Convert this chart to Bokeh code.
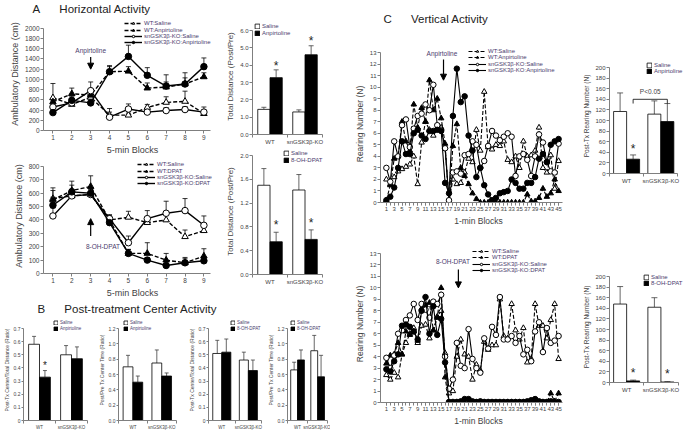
from bokeh.plotting import figure
from bokeh.layouts import row, column
from bokeh.models import (ColumnDataSource, Range1d, FixedTicker, NumeralTickFormatter,
                          Whisker, TeeHead, Legend, LegendItem, Arrow, NormalHead, Label)
from bokeh.core.properties import value
from bokeh.embed import file_html
from bokeh.resources import INLINE

# ======================= DATA =======================
groups = ["WT", "snGSK3β-KO"]
blocks5 = [1, 2, 3, 4, 5, 6, 7, 8, 9]
blocks1 = list(range(1, 46))

# A (top): ambulatory distance, anpirtoline
a1_wt_sal = [640, 510, 650, 300, 300, 450, 550, 570, 330]
a1_wt_sal_err = [280, 60, 100, 60, 40, 60, 110, 200, 70]
a1_wt_anp = [560, 720, 690, 1150, 1160, 830, 850, 910, 1050]
a1_wt_anp_err = [60, 110, 80, 100, 90, 100, 100, 120, 80]
a1_ko_sal = [460, 540, 780, 260, 420, 360, 390, 410, 360]
a1_ko_sal_err = [120, 60, 170, 170, 100, 60, 60, 60, 100]
a1_ko_anp = [350, 590, 540, 1150, 1450, 1080, 870, 910, 1250]
a1_ko_anp_err = [80, 80, 60, 120, 220, 150, 220, 220, 170]

# A (bottom): ambulatory distance, 8-OH-DPAT
a2_wt_sal = [560, 580, 590, 400, 420, 380, 400, 275, 320]
a2_wt_sal_err = [60, 40, 40, 30, 45, 40, 40, 50, 40]
a2_wt_dpat = [550, 620, 650, 400, 150, 150, 100, 80, 130]
a2_wt_dpat_err = [90, 70, 80, 30, 30, 80, 50, 40, 55]
a2_ko_sal = [430, 580, 590, 410, 230, 410, 450, 470, 360]
a2_ko_sal_err = [60, 50, 40, 30, 50, 60, 90, 90, 70]
a2_ko_dpat = [510, 610, 600, 380, 150, 100, 60, 80, 95]
a2_ko_dpat_err = [60, 50, 40, 30, 30, 20, 30, 30, 30]

# A bars: total distance (post/pre)
a1bar_sal = [1.45, 1.30]
a1bar_sal_err = [0.12, 0.12]
a1bar_anp = [3.28, 4.60]
a1bar_anp_err = [0.45, 0.52]
a2bar_sal = [1.50, 1.42]
a2bar_sal_err = [0.28, 0.26]
a2bar_dpat = [0.55, 0.59]
a2bar_dpat_err = [0.16, 0.16]

# B: post-treatment center activity
b1_sal = [0.58, 0.50]
b1_sal_err = [0.06, 0.07]
b1_anp = [0.33, 0.47]
b1_anp_err = [0.05, 0.09]
b2_sal = [0.70, 0.75]
b2_sal_err = [0.15, 0.17]
b2_anp = [0.50, 0.58]
b2_anp_err = [0.08, 0.04]
b3_sal = [0.51, 0.46]
b3_sal_err = [0.10, 0.06]
b3_dpat = [0.52, 0.38]
b3_dpat_err = [0.10, 0.08]
b4_sal = [0.66, 0.91]
b4_sal_err = [0.10, 0.20]
b4_dpat = [0.79, 0.57]
b4_dpat_err = [0.13, 0.28]

# C (top): rearing, anpirtoline
c1_wt_sal = [2.0, 1.6, 2.2, 2.7, 2.9, 3.1, 3.3, 4.0, 1.6, 5.2,
             7.0, 6.3, 5.8, 6.5, 6.5, 4.8, 0.1, 2.0, 1.6, 1.7,
             2.6, 3.8, 3.5, 6.3, 4.5, 9.6, 4.8, 4.6, 5.0, 4.9,
             5.3, 3.7, 3.5, 4.0, 3.0, 5.3, 4.0, 4.1, 4.5, 6.5,
             3.0, 2.6, 4.1, 1.2, 3.6]
c1_wt_anp = [0.2, 1.5, 3.8, 4.0, 7.0, 5.3, 4.5, 8.5, 6.5, 8.2,
             7.0, 10.6, 8.0, 9.0, 7.3, 5.1, 0.1, 4.9, 6.8, 3.0,
             2.3, 1.6, 0.8, 0.3, 0, 0, 0, 0, 0, 0,
             0, 0, 0, 0, 0, 0, 0.7, 0.1, 0.1, 0.4,
             1.2, 0.5, 0.8, 2.0, 1.0]
c1_ko_sal = [3.0, 1.8, 5.3, 4.0, 6.7, 7.2, 4.8, 6.4, 7.5, 7.7,
             8.5, 8.0, 10.2, 6.7, 6.3, 4.7, 0.2, 2.6, 2.7, 2.5,
             4.1, 4.2, 5.3, 5.0, 3.0, 3.6, 4.9, 6.2, 5.8, 5.4,
             5.7, 6.0, 5.7, 2.3, 4.0, 4.2, 3.7, 2.3, 4.0, 5.9,
             5.2, 3.5, 2.7, 2.6, 5.1]
c1_ko_anp = [0.2, 0.5, 1.3, 3.0, 5.3, 4.2, 4.2, 6.0, 6.3, 5.8,
             5.5, 6.2, 6.2, 6.3, 6.2, 1.7, 0.8, 7.5, 11.6, 8.7,
             9.2, 5.8, 4.5, 2.2, 3.0, 1.5, 0.7, 0.2, 0.4, 0.8,
             0.9, 1.0, 2.0, 1.7, 1.2, 1.2, 1.7, 1.7, 2.2, 3.8,
             4.2, 3.5, 5.0, 5.3, 5.5]

# C (bottom): rearing, 8-OH-DPAT
c2_wt_sal = [2.4, 2.0, 2.6, 2.2, 4.2, 5.2, 6.0, 6.5, 5.2, 6.7,
             6.8, 5.6, 6.3, 7.5, 8.0, 4.3, 0.8, 1.0, 4.0, 5.5,
             4.2, 4.0, 2.0, 3.3, 2.8, 5.3, 4.6, 5.0, 5.0, 9.0,
             5.8, 5.6, 8.6, 6.3, 5.5, 6.5, 3.5, 3.8, 8.6, 6.7,
             6.7, 5.6, 7.2, 8.6, 3.8]
c2_wt_dpat = [3.4, 4.1, 4.2, 5.2, 4.2, 6.2, 5.9, 6.2, 5.4, 8.2,
              8.5, 8.7, 6.3, 7.4, 10.0, 2.2, 0, 0, 0, 0,
              0, 0, 0, 0, 0, 0, 0, 0, 0, 0,
              0, 0, 0, 0, 0, 0, 0, 0, 0.1, 0,
              0, 0, 0.8, 0.1, 0.8]
c2_ko_sal = [3.9, 3.0, 4.1, 6.0, 6.3, 7.2, 7.6, 8.6, 7.2, 8.6,
             8.1, 7.4, 8.8, 8.6, 9.4, 4.0, 1.2, 2.0, 5.2, 3.2,
             3.0, 6.4, 3.8, 3.0, 2.6, 5.6, 4.7, 6.6, 5.9, 9.2,
             5.5, 5.5, 5.8, 5.2, 5.8, 4.2, 4.6, 3.6, 6.2, 7.0,
             4.4, 6.5, 5.2, 5.4, 5.8]
c2_ko_dpat = [2.9, 2.7, 3.6, 4.2, 6.7, 6.8, 6.6, 6.2, 5.5, 8.0,
              9.2, 6.0, 8.4, 5.9, 7.3, 3.5, 0.05, 0.05, 0.05, 0.1,
              0.3, 0.3, 0.1, 0.05, 0.1, 0.05, 0.05, 0.05, 0.05, 0.05,
              0.05, 0.05, 0.05, 0.05, 0.05, 0.05, 0.1, 0.2, 0.3, 0.1,
              0.05, 0.05, 0.1, 0.05, 0.05]

# C bars: post-Tx rearing number
c1bar_sal = [117, 112]
c1bar_sal_err = [35, 25]
c1bar_anp = [27, 98]
c1bar_anp_err = [8, 34]
c2bar_sal = [148, 142]
c2bar_sal_err = [33, 18]
c2bar_dpat = [3, 1]
c2bar_dpat_err = [1.5, 0.5]

# tick values
a1_yticks = [0, 200, 400, 600, 800, 1000, 1200, 1400, 1600, 1800, 2000]
a2_yticks = [0, 100, 200, 300, 400, 500, 600, 700, 800]
a1bar_yticks = [0, 1, 2, 3, 4, 5, 6]
a2bar_yticks = [0, 0.4, 0.8, 1.2, 1.6, 2.0]
b_small_yticks = [0, 0.1, 0.2, 0.3, 0.4, 0.5, 0.6, 0.7]
b_large_yticks = [0, 0.2, 0.4, 0.6, 0.8, 1.0, 1.2]
c_yticks = [0, 1, 2, 3, 4, 5, 6, 7, 8, 9, 10, 11, 12, 13]
cbar_yticks = [0, 20, 40, 60, 80, 100, 120, 140, 160, 180, 200]
c_xlabels = [1, 3, 5, 7, 9, 11, 13, 15, 17, 19, 21, 23, 25, 27, 29, 31, 33, 35, 37, 39, 41, 43, 45]

# ======================= STYLE / LAYOUT =======================
FONT = "Liberation Sans"
AXC = "#7f7f7f"
TXT = "#3f3f3f"
LEG = "#4b3d6e"
FRAMES = {}


def make_fig(box, frame, xr, yr, ext_top=0, ext_right=0):
    """box/frame in page pixels; the data ranges xr/yr map onto 'frame';
    the actual frame is extended upward/rightward so legends are not clipped."""
    bx0, by0, bx1, by1 = box
    fx0, fy0, fx1, fy1 = frame
    ppx = (fx1 - fx0) / (xr[1] - xr[0])
    ppy = (fy1 - fy0) / (yr[1] - yr[0])
    afy0 = fy0 - ext_top
    afx1 = fx1 + ext_right
    p = figure(width=bx1 - bx0, height=by1 - by0,
               x_range=Range1d(xr[0], xr[1] + ext_right / ppx),
               y_range=Range1d(yr[0], yr[1] + ext_top / ppy),
               output_backend="svg", toolbar_location=None, title=None,
               min_border_left=fx0 - bx0, min_border_right=bx1 - afx1,
               min_border_top=afy0 - by0, min_border_bottom=by1 - fy1)
    p.frame_align = False
    p.outline_line_color = None
    p.xgrid.visible = False
    p.ygrid.visible = False
    p.background_fill_color = "white"
    p.border_fill_color = "white"
    p.xaxis.bounds = (xr[0], xr[1])
    p.yaxis.bounds = (yr[0], yr[1])
    FRAMES[p.id] = (fx0, afy0, afx1, fy1)
    return p


def strip(w, h, text, x, y_from_top):
    p = figure(width=w, height=h, x_range=Range1d(0, w), y_range=Range1d(0, h),
               output_backend="svg", toolbar_location=None, title=None,
               x_axis_location=None, y_axis_location=None,
               min_border_left=0, min_border_right=0, min_border_top=0, min_border_bottom=0)
    p.frame_align = False
    p.outline_line_color = None
    p.xgrid.visible = False
    p.ygrid.visible = False
    p.add_layout(Label(x=x, y=h - y_from_top, text=text, text_font=FONT, text_font_size="11.5px",
                       text_color="#222222", text_align="left", text_baseline="middle"))
    return p


def style_axes(p, tick_fs, lab_fs, xlabel, ylabel, yticks, yfmt=None, tick_out=3, lab_so=2):
    for ax in list(p.xaxis) + list(p.yaxis):
        ax.axis_line_color = AXC
        ax.major_tick_line_color = AXC
        ax.major_tick_in = 0
        ax.major_tick_out = tick_out
        ax.minor_tick_in = 0
        ax.minor_tick_out = 0
        ax.major_label_text_font = FONT
        ax.major_label_text_font_size = tick_fs
        ax.major_label_text_color = TXT
        ax.axis_label_text_font = FONT
        ax.axis_label_text_font_style = "normal"
        ax.axis_label_text_font_size = lab_fs
        ax.axis_label_text_color = TXT
        ax.major_label_standoff = 1
        ax.axis_label_standoff = lab_so
    p.xaxis.axis_label = xlabel
    p.yaxis.axis_label = ylabel
    p.yaxis.ticker = FixedTicker(ticks=yticks, minor_ticks=[])
    if yfmt:
        p.yaxis.formatter = NumeralTickFormatter(format=yfmt)


def add_err(p, x, y, err, head=5, lw=0.8, color="black"):
    src = ColumnDataSource(dict(x=x, lo=y, up=[a + b for a, b in zip(y, err)]))
    p.add_layout(Whisker(source=src, base="x", lower="lo", upper="up", dimension="height",
                         line_color=color, line_width=lw, lower_head=None,
                         upper_head=TeeHead(size=head, line_color=color, line_width=lw)))


def add_legend(p, items, left, top, fs, row_h, glyph_w):
    """one single-row legend per item, each anchored at its own row, so rows stay evenly spaced"""
    fx0, fy0, fx1, fy1 = FRAMES[p.id]
    for i, it in enumerate(items):
        loc = (left - fx0, fy1 - top - (i + 1) * row_h)
        lg = Legend(items=[it], location=loc, label_text_font_size=fs, label_text_font=FONT,
                    label_text_color=LEG, glyph_width=glyph_w, glyph_height=int(row_h),
                    label_height=int(row_h), spacing=0, padding=0, margin=0,
                    border_line_color=None, background_fill_alpha=0, label_standoff=2)
        p.add_layout(lg)


def line_panel(p, x, series, msize, lw, errs=None):
    items = []
    for i, (y, dash, marker, fill, label) in enumerate(series):
        if errs is not None:
            add_err(p, x, y, errs[i], head=5, lw=0.8)
        lr = p.line(x, y, line_color="black", line_width=lw, line_dash=dash)
        sr = p.scatter(x, y, marker=marker, size=msize, fill_color=fill, line_color="black", line_width=1)
        items.append(LegendItem(label=label, renderers=[lr, sr]))
    return items


def bar_panel(p, sal, sal_err, trt, trt_err, width, head, star_idx, star_pad, star_fs):
    centers = [0.5, 1.5]
    off = width / 2
    xs = [c - off for c in centers]
    xt = [c + off for c in centers]
    add_err(p, xs, sal, sal_err, head=head, lw=0.8, color="#404040")
    add_err(p, xt, trt, trt_err, head=head, lw=0.8, color="#404040")
    r1 = p.vbar(x=xs, top=sal, width=width, fill_color="white", line_color="black", line_width=0.8)
    r2 = p.vbar(x=xt, top=trt, width=width, fill_color="black", line_color="black", line_width=0.8)
    if star_idx:
        sxs = [xt[i] for i in star_idx]
        sys_ = [trt[i] + trt_err[i] + star_pad for i in star_idx]
        p.text(x=sxs, y=sys_, text=["*"] * len(sxs), text_font=value(FONT), text_font_size=star_fs,
               text_align="center", text_baseline="middle", text_color="#222222")
    p.xaxis.ticker = FixedTicker(ticks=centers, minor_ticks=[0, 1, 2])
    p.xaxis.major_label_overrides = {0.5: groups[0], 1.5: groups[1]}
    p.xaxis.major_tick_line_color = None
    p.xaxis.minor_tick_line_color = AXC
    p.xaxis.minor_tick_out = 3
    return r1, r2, xs, xt


# ---------- titles ----------
tA = strip(330, 16, "A\u00a0\u00a0\u00a0\u00a0\u00a0\u00a0Horizontal Activity", 32, 8)
tB = strip(330, 18, "B\u00a0\u00a0\u00a0\u00a0\u00a0\u00a0Post-treatment Center Activity", 37, 8)
tC = strip(356, 33, "C\u00a0\u00a0\u00a0\u00a0\u00a0\u00a0Vertical Activity", 53, 18)

# ---------- A top line ----------
pA1 = make_fig((0, 16, 222, 157), (43, 28, 210, 132), (0.5, 9.35), (0, 2000), ext_top=11, ext_right=11)
style_axes(pA1, "6.5px", "9px", "5-min Blocks", "Ambulatory Distance (cm)", a1_yticks)
pA1.xaxis.ticker = FixedTicker(ticks=blocks5)
itA1 = line_panel(pA1, blocks5, [
    (a1_wt_sal, "4 2", "triangle", "white", "WT:Saline"),
    (a1_wt_anp, "4 2", "triangle", "black", "WT:Anpirtoline"),
    (a1_ko_sal, "solid", "circle", "white", "snGSK3β-KO:Saline"),
    (a1_ko_anp, "solid", "circle", "black", "snGSK3β-KO:Anpirtoline"),
], 6.5, 1.4, errs=[a1_wt_sal_err, a1_wt_anp_err, a1_ko_sal_err, a1_ko_anp_err])
add_legend(pA1, itA1, 124, 22, "6px", 6.3, 18)
pA1.add_layout(Arrow(end=NormalHead(size=6, fill_color="black", line_color="black"),
                     x_start=3, y_start=1440, x_end=3, y_end=1200, line_color="black", line_width=1.2))
pA1.add_layout(Label(x=3, y=1560, text="Anpirtoline", text_font=FONT, text_font_size="6.5px",
                     text_align="center", text_baseline="middle", text_color=LEG))

# ---------- A bottom line ----------
pA2 = make_fig((0, 157, 222, 300), (43, 166, 210, 274), (0.5, 9.35), (0, 800), ext_top=8, ext_right=11)
style_axes(pA2, "6.5px", "9px", "5-min Blocks", "Ambulatory Distance (cm)", a2_yticks)
pA2.xaxis.ticker = FixedTicker(ticks=blocks5)
itA2 = line_panel(pA2, blocks5, [
    (a2_wt_sal, "4 2", "triangle", "white", "WT:Saline"),
    (a2_wt_dpat, "4 2", "triangle", "black", "WT:DPAT"),
    (a2_ko_sal, "solid", "circle", "white", "snGSK3β-KO:Saline"),
    (a2_ko_dpat, "solid", "circle", "black", "snGSK3β-KO:DPAT"),
], 6.5, 1.4, errs=[a2_wt_sal_err, a2_wt_dpat_err, a2_ko_sal_err, a2_ko_dpat_err])
add_legend(pA2, itA2, 137, 162, "6px", 6.3, 18)
pA2.add_layout(Arrow(end=NormalHead(size=6, fill_color="black", line_color="black"),
                     x_start=3, y_start=280, x_end=3, y_end=410, line_color="black", line_width=1.2))
pA2.add_layout(Label(x=3.65, y=205, text="8-OH-DPAT", text_font=FONT, text_font_size="6.5px",
                     text_align="center", text_baseline="middle", text_color=LEG))

# ---------- A top bar ----------
pA1b = make_fig((222, 16, 330, 148), (252, 30, 322, 134), (0, 2), (0, 6), ext_top=12, ext_right=6)
style_axes(pA1b, "6px", "8px", None, "Total Distance (Post/Pre)", a1bar_yticks, "0.0")
r1, r2, _, _ = bar_panel(pA1b, a1bar_sal, a1bar_sal_err, a1bar_anp, a1bar_anp_err, 0.35, 5, [0, 1], 0.25, "12px")
add_legend(pA1b, [LegendItem(label="Saline", renderers=[r1]), LegendItem(label="Anpirtoline", renderers=[r2])],
           254, 23, "6px", 6.3, 6)

# ---------- A bottom bar ----------
pA2b = make_fig((222, 148, 330, 300), (252, 155, 322, 274), (0, 2), (0, 2), ext_top=7, ext_right=7)
style_axes(pA2b, "6px", "8px", None, "Total Distance (Post/Pre)", a2bar_yticks, "0.0")
r1, r2, _, _ = bar_panel(pA2b, a2bar_sal, a2bar_sal_err, a2bar_dpat, a2bar_dpat_err, 0.35, 5, [0, 1], 0.12, "12px")
add_legend(pA2b, [LegendItem(label="Saline", renderers=[r1]), LegendItem(label="8-OH-DPAT", renderers=[r2])],
           283, 150, "6px", 6.3, 6)

# ---------- B bars ----------
def b_chart(box, frame, yr, yticks, fmt, ylabel, sal, sal_err, trt, trt_err, stars, trt_label, leg_x):
    p = make_fig(box, frame, (0, 2), yr, ext_top=frame[1] - box[1] - 1, ext_right=box[2] - frame[2] - 1)
    style_axes(p, "5px", "5px", None, ylabel, yticks, fmt, tick_out=2, lab_so=1)
    p.xaxis.major_label_text_font_size = "4.5px"
    r1, r2, _, _ = bar_panel(p, sal, sal_err, trt, trt_err, 0.34, 4, stars, yr[1] * 0.06, "10px")
    add_legend(p, [LegendItem(label="Saline", renderers=[r1]), LegendItem(label=trt_label, renderers=[r2])],
               leg_x, 320, "4.5px", 5.3, 5)
    return p

pB1 = b_chart((0, 318, 95, 432), (23, 328, 87, 420), (0, 0.7), b_small_yticks, "0.[0]",
              "Post-Tx Center/Total Distance (Ratio)", b1_sal, b1_sal_err, b1_anp, b1_anp_err, [0],
              "Anpirtoline", 53)
pB2 = b_chart((95, 318, 185, 432), (113, 328, 175, 420), (0, 1.2), b_large_yticks, "0.0",
              "Post/Pre Tx Center Time (Ratio)", b2_sal, b2_sal_err, b2_anp, b2_anp_err, [],
              "Anpirtoline", 118)
pB3 = b_chart((185, 318, 264, 432), (203, 328, 261, 420), (0, 0.7), b_small_yticks, "0.[0]",
              "Post-Tx Center/Total Distance (Ratio)", b3_sal, b3_sal_err, b3_dpat, b3_dpat_err, [],
              "8-OH-DPAT", 225)
pB4 = b_chart((264, 318, 330, 432), (282, 328, 327, 420), (0, 1.2), b_large_yticks, "0.0",
              "Post/Pre Tx Center Time (Ratio)", b4_sal, b4_sal_err, b4_dpat, b4_dpat_err, [],
              "8-OH-DPAT", 285)

# ---------- C top line ----------
pC1 = make_fig((330, 33, 580, 233), (380, 52, 562, 202), (-0.5, 46), (0, 13), ext_top=7, ext_right=14)
style_axes(pC1, "6px", "8.5px", "1-min Blocks", "Rearing Number (N)", c_yticks)
pC1.xaxis.ticker = FixedTicker(ticks=c_xlabels, minor_ticks=blocks1)
pC1.xaxis.minor_tick_line_color = AXC
pC1.xaxis.minor_tick_out = 3
itC1 = line_panel(pC1, blocks1, [
    (c1_wt_sal, "4 2", "triangle", "white", "WT:Saline"),
    (c1_wt_anp, "4 2", "triangle", "black", "WT:Anpirtoline"),
    (c1_ko_sal, "solid", "circle", "white", "snGSK3β-KO:Saline"),
    (c1_ko_anp, "solid", "circle", "black", "snGSK3β-KO:Anpirtoline"),
], 5.5, 1.1)
add_legend(pC1, itC1, 468, 47, "6px", 6.5, 18)
pC1.add_layout(Arrow(end=NormalHead(size=6, fill_color="black", line_color="black"),
                     x_start=15.6, y_start=12.4, x_end=15.6, y_end=10.6, line_color="black", line_width=1.2))
pC1.add_layout(Label(x=15.2, y=12.9, text="Anpirtoline", text_font=FONT, text_font_size="6.5px",
                     text_align="center", text_baseline="middle", text_color=LEG))

# ---------- C bottom line ----------
pC2 = make_fig((330, 233, 580, 432), (380, 253, 562, 402), (-0.5, 46), (0, 13), ext_top=8, ext_right=14)
style_axes(pC2, "6px", "8.5px", "1-min Blocks", "Rearing Number (N)", c_yticks)
pC2.xaxis.ticker = FixedTicker(ticks=c_xlabels, minor_ticks=blocks1)
pC2.xaxis.minor_tick_line_color = AXC
pC2.xaxis.minor_tick_out = 3
itC2 = line_panel(pC2, blocks1, [
    (c2_wt_sal, "4 2", "triangle", "white", "WT:Saline"),
    (c2_wt_dpat, "4 2", "triangle", "black", "WT:DPAT"),
    (c2_ko_sal, "solid", "circle", "white", "snGSK3β-KO:Saline"),
    (c2_ko_dpat, "solid", "circle", "black", "snGSK3β-KO:DPAT"),
], 5.5, 1.1)
add_legend(pC2, itC2, 472, 247, "6px", 6.5, 18)
pC2.add_layout(Arrow(end=NormalHead(size=6, fill_color="black", line_color="black"),
                     x_start=19.4, y_start=11.6, x_end=19.4, y_end=10.0, line_color="black", line_width=1.2))
pC2.add_layout(Label(x=18.0, y=12.3, text="8-OH-DPAT", text_font=FONT, text_font_size="6.5px",
                     text_align="center", text_baseline="middle", text_color=LEG))

# ---------- C top bar ----------
pC1b = make_fig((580, 33, 686, 233), (605, 67, 677, 173), (0, 2), (0, 200), ext_top=9, ext_right=9)
style_axes(pC1b, "6px", "6.5px", None, "Post-Tx Rearing Number (N)", cbar_yticks)
r1, r2, xs, xt = bar_panel(pC1b, c1bar_sal, c1bar_sal_err, c1bar_anp, c1bar_anp_err, 0.38, 6, [0], 12, "12px")
add_legend(pC1b, [LegendItem(label="Saline", renderers=[r1]), LegendItem(label="Anpirtoline", renderers=[r2])],
           642, 61, "6px", 6.5, 6)
BRACKET_Y = 140
BRACKET_DROP = 8
pC1b.line(x=[xt[0], xt[0], xt[1], xt[1]], y=[BRACKET_Y - BRACKET_DROP, BRACKET_Y, BRACKET_Y, BRACKET_Y - BRACKET_DROP],
          line_color="black", line_width=0.8)
pC1b.add_layout(Label(x=(xt[0] + xt[1]) / 2, y=BRACKET_Y + 14, text="P<0.05", text_font=FONT,
                      text_font_size="6.5px", text_align="center", text_baseline="middle", text_color=TXT))

# ---------- C bottom bar ----------
pC2b = make_fig((580, 233, 686, 432), (604, 276, 677, 382), (0, 2), (0, 200), ext_top=5, ext_right=9)
style_axes(pC2b, "6px", "6.5px", None, "Post-Tx Rearing Number (N)", cbar_yticks)
r1, r2, _, _ = bar_panel(pC2b, c2bar_sal, c2bar_sal_err, c2bar_dpat, c2bar_dpat_err, 0.38, 6, [0, 1], 14, "12px")
add_legend(pC2b, [LegendItem(label="Saline", renderers=[r1]), LegendItem(label="8-OH-DPAT", renderers=[r2])],
           638, 273, "6px", 6.5, 6)

# ---------- assemble ----------
left = column(
    tA,
    row(column(pA1, pA2), column(pA1b, pA2b)),
    tB,
    row(pB1, pB2, pB3, pB4),
)
right = column(tC, row(pC1, pC1b), row(pC2, pC2b))
root = row(left, right)

open("out.html", "w").write(file_html(root, INLINE))
